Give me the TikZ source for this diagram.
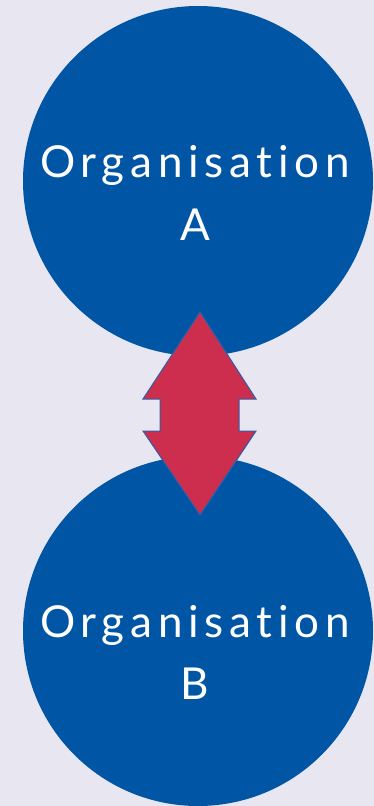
\documentclass[tikz,border=0pt]{standalone}
\usepackage{fontspec}
\setmainfont[Ligatures=NoCommon]{Lato}
\definecolor{bg}{HTML}{E8E7F1}
\definecolor{orgblue}{HTML}{0056A5}
\definecolor{arrred}{HTML}{CD2E4D}
\definecolor{edgeblue}{HTML}{2E5EA8}
\tikzset{
  org/.style={circle, fill=orgblue, minimum size=350pt, inner sep=0pt},
  orgtext/.style={text=white, font=\fontsize{44}{63}\selectfont\addfontfeatures{LetterSpace=13}, align=center, inner sep=0pt, anchor=base},
  dblarrow/.style={fill=arrred, draw=edgeblue, line width=1pt, line join=miter}
}
\begin{document}
\begin{tikzpicture}[x=1pt,y=-1pt]
\fill[bg] (0,0) rectangle (374,806);
\useasboundingbox (0,0) rectangle (374,806);
\node[org] (orgA) at (198,181) {};
\node[org] (orgB) at (198,631) {};
\draw[dblarrow] (200,312) -- (256,399) -- (239,399) -- (239,431) -- (256,431) -- (200,515) -- (143,431) -- (160,431) -- (160,399) -- (143,399) -- cycle;
\node[orgtext] (ta1) at (195,177) {Organisation};
\node[orgtext] (ta2) at (195,240) {A};
\node[orgtext] (tb1) at (195,637) {Organisation};
\node[orgtext] (tb2) at (195,699) {B};
\end{tikzpicture}
\end{document}
